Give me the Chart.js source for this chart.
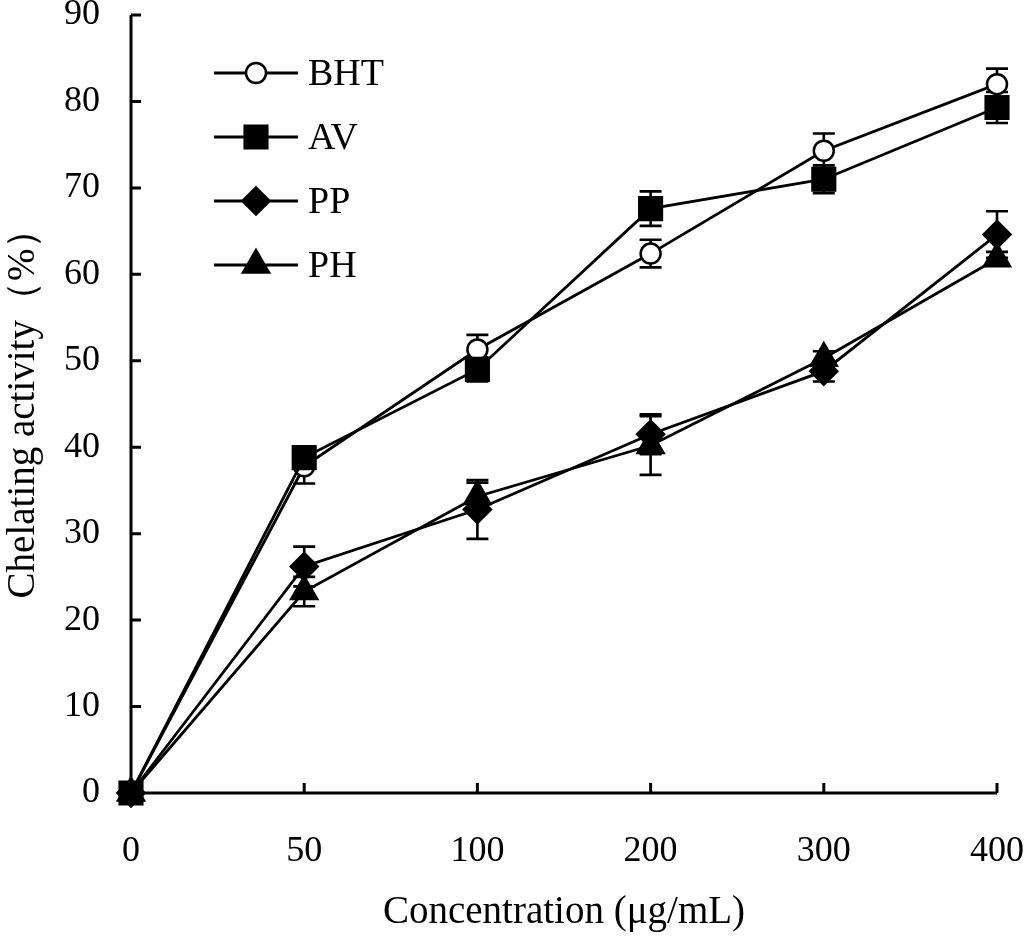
<!DOCTYPE html>
<html><head><meta charset="utf-8">
<script src="https://cdn.jsdelivr.net/npm/chart.js@4/dist/chart.umd.min.js"></script>
<style>html,body{margin:0;padding:0;background:#fff}#wrap{width:1024px;height:942px}</style>
</head><body><div id="wrap"><canvas id="c"></canvas></div>
<script>
const categories = ['0','50','100','200','300','400'];
const seriesNames = ['BHT','AV','PP','PH'];
const bhtValues = [0, 37.8, 51.3, 62.4, 74.3, 82.0];
const avValues  = [0, 38.8, 49.0, 67.6, 71.0, 79.3];
const ppValues  = [0, 26.2, 32.8, 41.5, 48.8, 64.6];
const phValues  = [0, 23.3, 34.3, 40.2, 50.3, 61.8];
const bhtErr = [0, 2.0, 1.7, 1.6, 2.0, 1.8];
const avErr  = [0, 1.2, 1.4, 2.0, 1.6, 1.8];
const ppErr  = [0, 2.3, 3.4, 2.3, 1.2, 2.7];
const phErr  = [0, 1.7, 1.6, 3.4, 0.8, 0.8];
const yTicks = [0,10,20,30,40,50,60,70,80,90];

const FONT = '"Liberation Serif","Times New Roman",serif';
const errs = [bhtErr, avErr, ppErr, phErr];

const errorBars = {
  id: 'errorBars',
  beforeDatasetsDraw(chart) {
    const ctx = chart.ctx, y = chart.scales.y;
    ctx.save(); ctx.strokeStyle = '#000'; ctx.lineWidth = 2.6;
    chart.data.datasets.forEach((ds, i) => {
      const meta = chart.getDatasetMeta(i);
      meta.data.forEach((pt, j) => {
        const e = errs[i][j]; if (!e) return;
        const v = ds.data[j];
        const yt = y.getPixelForValue(v + e), yb = y.getPixelForValue(v - e);
        ctx.beginPath();
        ctx.moveTo(pt.x, yt); ctx.lineTo(pt.x, yb);
        ctx.moveTo(pt.x - 11, yt); ctx.lineTo(pt.x + 11, yt);
        ctx.moveTo(pt.x - 11, yb); ctx.lineTo(pt.x + 11, yb);
        ctx.stroke();
      });
    });
    ctx.restore();
  }
};

const axesPlugin = {
  id: 'axesPlugin',
  afterDraw(chart) {
    const ctx = chart.ctx, a = chart.chartArea, xs = chart.scales.x, ys = chart.scales.y;
    ctx.save(); ctx.strokeStyle = '#000'; ctx.lineWidth = 3; ctx.lineCap = 'butt';
    ctx.beginPath();
    ctx.moveTo(a.left, a.top); ctx.lineTo(a.left, a.bottom); ctx.lineTo(a.right, a.bottom);
    ys.ticks.forEach((t, i) => { const py = ys.getPixelForTick(i); ctx.moveTo(a.left, py); ctx.lineTo(a.left + 10, py); });
    xs.ticks.forEach((t, i) => { if (i === 0) return; const px = xs.getPixelForTick(i); ctx.moveTo(px, a.bottom); ctx.lineTo(px, a.bottom - 10); });
    ctx.stroke();
    // legend
    const ds = chart.data.datasets;
    ds.forEach((d, i) => {
      const ly = a.top + 58 + i * 64;
      const lx0 = a.left + 83, lx1 = a.left + 167, mx = a.left + 125;
      ctx.strokeStyle = '#000'; ctx.lineWidth = 2.8;
      ctx.beginPath(); ctx.moveTo(lx0, ly); ctx.lineTo(lx1, ly); ctx.stroke();
      ctx.fillStyle = d.pointBackgroundColor; ctx.strokeStyle = '#000'; ctx.lineWidth = d.pointBorderWidth;
      Chart.helpers.drawPoint(ctx, {pointStyle: d.pointStyle, radius: d.pointRadius, borderWidth: d.pointBorderWidth}, mx, ly);
      ctx.fillStyle = '#000';
      ctx.font = '38px ' + FONT; ctx.textBaseline = 'middle'; ctx.textAlign = 'left';
      ctx.fillText(d.label, a.left + 177, ly + 2);
    });
    ctx.restore();
  }
};

function mk(label, data, style, r, fill, order) {
  return { label, data, pointStyle: style, pointRadius: r, pointHoverRadius: r,
    borderColor: '#000', borderWidth: 2.8, pointBorderColor: '#000', pointBorderWidth: 2.5,
    pointBackgroundColor: fill, backgroundColor: fill, tension: 0, fill: false, order, clip: false };
}

const chart = new Chart(document.getElementById('c'), {
  type: 'line',
  data: {
    labels: categories,
    datasets: [
      mk(seriesNames[0], bhtValues, 'circle', 10, '#fff', 1),
      mk(seriesNames[1], avValues, 'rect', 16, '#000', 0),
      mk(seriesNames[2], ppValues, 'rectRot', 13.5, '#000', 2),
      mk(seriesNames[3], phValues, 'triangle', 15, '#000', 3)
    ]
  },
  options: {
    responsive: true, maintainAspectRatio: false, animation: false,
    devicePixelRatio: 1,
    layout: { autoPadding: false, padding: 0 },
    plugins: { legend: { display: false }, tooltip: { enabled: false } },
    scales: {
      x: {
        type: 'category', offset: false,
        grid: { display: false, drawTicks: false }, border: { display: false },
        ticks: { color: '#000', font: { family: FONT, size: 36 }, padding: 37, maxRotation: 0 },
        title: { display: true, text: 'Concentration (μg/mL)', color: '#000', font: { family: FONT, size: 39 }, padding: { top: 0, bottom: 6 } },
        afterFit(s) { s.height = 149; s.paddingLeft = 0; s.paddingRight = 27; }
      },
      y: {
        min: 0, max: 90,
        afterBuildTicks(s) { s.ticks = yTicks.map(v => ({ value: v })); },
        grid: { display: false, drawTicks: false }, border: { display: false },
        ticks: { color: '#000', font: { family: FONT, size: 36, lineHeight: 0.8 }, padding: 31 },
        title: { display: true, text: 'Chelating activity（%）', color: '#000', font: { family: FONT, size: 39 }, padding: { top: 0, bottom: 0 } },
        afterFit(s) { s.width = 131; s.paddingTop = 15; s.paddingBottom = 0; }
      }
    }
  },
  plugins: [errorBars, axesPlugin]
});
</script></body></html>
